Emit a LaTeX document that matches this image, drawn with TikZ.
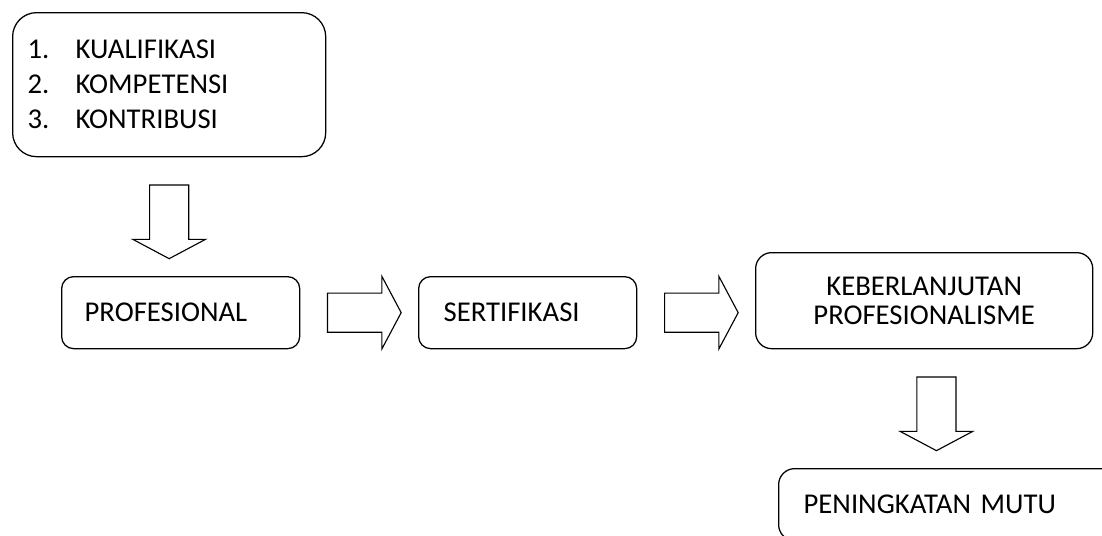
\documentclass[tikz,border=0pt]{standalone}
\usepackage{fontspec}
\setmainfont{Carlito}
\usetikzlibrary{shapes.arrows,calc}

\begin{document}
\begin{tikzpicture}[x=0.025cm,y=-0.025cm,
    font=\fontsize{20.4pt}{24.9pt}\selectfont,
    box/.style={draw,line width=0.9pt,inner ysep=0pt,minimum height=1.8cm},
    bigarrow/.style={draw,line width=0.8pt,single arrow,single arrow head extend=0.42cm,
      single arrow tip angle=124,inner xsep=0pt,inner ysep=0.475cm,minimum height=1.84cm}]
\clip (0,0) rectangle (1102,535);

\node[box,rounded corners=0.6cm,anchor=north west,minimum height=3.6cm,inner xsep=0.375cm,
      text width=7.075cm,align=left] (syarat) at (12,12)
  {\makebox[1.2cm][l]{1.}KUALIFIKASI\\ \makebox[1.2cm][l]{2.}KOMPETENSI\\ \makebox[1.2cm][l]{3.}KONTRIBUSI};
\node[box,rounded corners=0.3cm,anchor=north west,inner xsep=0.575cm,text width=4.8cm,align=left]
  (prof) at (61,276) {PROFESIONAL};
\node[box,rounded corners=0.3cm,anchor=north west,inner xsep=0.625cm,text width=4.2cm,align=left]
  (sert) at (418,276) {SERTIFIKASI};
\node[box,rounded corners=0.4cm,anchor=north west,minimum height=2.4cm,inner xsep=0pt,
      text width=8.425cm,align=center,font=\fontsize{20.4pt}{20.3pt}\selectfont]
  (lanjut) at (755,252) {KEBERLANJUTAN\\PROFESIONALISME};
\node[box,rounded corners=0.4cm,anchor=north west,inner xsep=0.625cm,text width=7.25cm,align=left]
  (mutu) at (778,468) {PENINGKATAN MUTU};

% panah antar kotak
\node[bigarrow,rotate=-90] (p1) at ($(syarat.south)!0.5!(prof.north -| syarat.south)$) {};
\node[bigarrow] (p2) at ($(prof.east)!0.5!(sert.west)$) {};
\node[bigarrow] (p3) at ($(sert.east)!0.5!(lanjut.west |- sert.east)$) {};
\node[bigarrow,rotate=-90] (p4) at ($(lanjut.south)!0.5!(mutu.north)$) {};
\end{tikzpicture}
\end{document}
